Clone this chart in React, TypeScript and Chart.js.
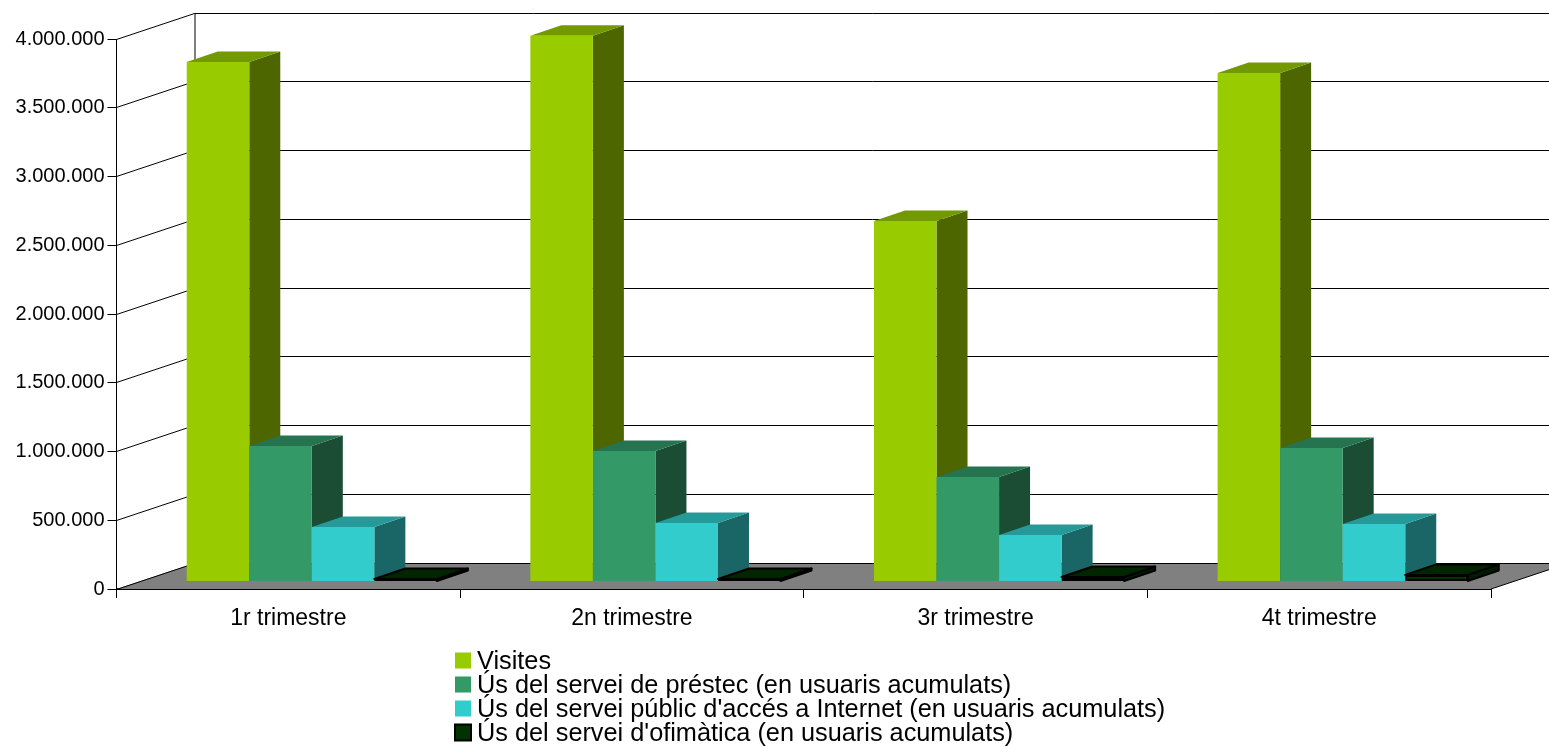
import React, { useEffect, useRef } from "react";
import { Chart, registerables } from "chart.js";

Chart.register(...registerables);

const categories = ["1r trimestre", "2n trimestre", "3r trimestre", "4t trimestre"];
const visites = [3778000, 3970000, 2622000, 3699000];
const prestec = [986000, 949000, 760000, 971000];
const publicInternet = [397000, 426000, 339000, 419000];
const ofimatica = [18000, 18000, 33000, 48000];
const seriesLabels = [
  "Visites",
  "Ús del servei de préstec (en usuaris acumulats)",
  "Ús del servei públic d'accés a Internet (en usuaris acumulats)",
  "Ús del servei d'ofimàtica (en usuaris acumulats)",
];
const frontColors = ["#99cc00", "#339966", "#33cccc", "#003300"];
const sideColors = ["#4d6600", "#1a4d33", "#1a6666", "#001a00"];
const topColors = ["#739900", "#267350", "#269999", "#002600"];

const FONT = '"Liberation Sans", Arial, sans-serif';
const WALL_DX = 78;
const WALL_DY = -26;
const BAR_DX = 23.5;
const BAR_DY = -7.5;
const DEPTH_DX = 31;
const DEPTH_DY = -10.5;

const poly = (ctx: CanvasRenderingContext2D, pts: number[][]) => {
  ctx.beginPath();
  pts.forEach(([x, y], i) => (i ? ctx.lineTo(x, y) : ctx.moveTo(x, y)));
  ctx.closePath();
};

const box3d = {
  id: "box3d",
  beforeDatasetsDraw(chart: any) {
    const { ctx, chartArea: a, scales } = chart;
    ctx.save();
    // floor
    ctx.fillStyle = "#808080";
    poly(ctx, [
      [a.left, a.bottom],
      [a.left + WALL_DX, a.bottom + WALL_DY],
      [a.right + WALL_DX, a.bottom + WALL_DY],
      [a.right, a.bottom],
    ]);
    ctx.fill();
    // walls, following the value axis
    ctx.strokeStyle = "#000";
    ctx.lineWidth = 1;
    ctx.beginPath();
    scales.y.ticks.forEach((t: any) => {
      const y = Math.floor(scales.y.getPixelForValue(t.value)) + 0.5;
      ctx.moveTo(a.left, y);
      ctx.lineTo(a.left + WALL_DX, y + WALL_DY);
      ctx.lineTo(a.right + WALL_DX, y + WALL_DY);
    });
    ctx.moveTo(a.left + WALL_DX + 0.5, a.top + WALL_DY);
    ctx.lineTo(a.left + WALL_DX + 0.5, a.bottom + WALL_DY);
    ctx.moveTo(a.right, a.bottom);
    ctx.lineTo(a.right + WALL_DX, a.bottom + WALL_DY);
    ctx.stroke();
    ctx.restore();

    // Painter's order left to right: each series' depth faces, then its fronts.
    chart.getSortedVisibleDatasetMetas().forEach((meta: any) => {
      const i = meta.index;
      ctx.save();
      ctx.translate(BAR_DX, BAR_DY);
      const outlined = i === 3;
      meta.data.forEach((bar: any) => {
        const l = bar.x - bar.width / 2;
        const r = bar.x + bar.width / 2;
        const t = bar.y;
        const b = bar.base;
        ctx.lineWidth = 2;
        ctx.lineJoin = "round";
        ctx.strokeStyle = "#000";
        ctx.fillStyle = sideColors[i];
        poly(ctx, [
          [r, t],
          [r + DEPTH_DX, t + DEPTH_DY],
          [r + DEPTH_DX, b + DEPTH_DY],
          [r, b],
        ]);
        ctx.fill();
        if (outlined) ctx.stroke();
        ctx.fillStyle = topColors[i];
        poly(ctx, [
          [l, t],
          [l + DEPTH_DX, t + DEPTH_DY],
          [r + DEPTH_DX, t + DEPTH_DY],
          [r, t],
        ]);
        ctx.fill();
        if (outlined) ctx.stroke();
      });
      meta.controller.draw();
      ctx.restore();
    });
    return false;
  },
  afterDraw(chart: any) {
    const { ctx } = chart;
    ctx.save();
    ctx.textBaseline = "middle";
    ctx.textAlign = "left";
    ctx.font = `25.3px ${FONT}`;
    chart.data.datasets.forEach((ds: any, i: number) => {
      const y = 652.5 + i * 24;
      ctx.fillStyle = frontColors[i];
      ctx.fillRect(455, y, 16, 16);
      if (i === 3) {
        ctx.strokeStyle = "#000";
        ctx.lineWidth = 2;
        ctx.strokeRect(455, y, 16, 16);
      }
      ctx.fillStyle = "#000";
      ctx.fillText(ds.label, 477, y + 9.5);
    });
    ctx.restore();
  },
};

export default function App() {
  const ref = useRef<HTMLCanvasElement>(null);
  useEffect(() => {
    document.body.style.margin = "0";
    const series = [visites, prestec, publicInternet, ofimatica];
    const chart = new Chart(ref.current!, {
      type: "bar",
      data: {
        labels: categories,
        datasets: series.map((data, i) => ({
          label: seriesLabels[i],
          data,
          backgroundColor: frontColors[i],
          borderColor: "#000",
          borderWidth: i === 3 ? 2 : 0,
          borderSkipped: false,
          categoryPercentage: 0.728,
          barPercentage: 1,
        })),
      },
      options: {
        responsive: false,
        animation: false,
        devicePixelRatio: 1,
        layout: { padding: { top: 39, right: 58, left: 0, bottom: 0 } },
        plugins: { legend: { display: false }, title: { display: false }, tooltip: { enabled: false } },
        scales: {
          x: {
            grid: { drawOnChartArea: false, drawTicks: true, tickLength: 9, color: "#000" },
            border: { color: "#000", width: 2 },
            ticks: { color: "#000", font: { family: FONT, size: 23 }, padding: 7, maxRotation: 0 },
            afterFit: (s: any) => {
              s.height = 157;
            },
          },
          y: {
            min: 0,
            max: 4000000,
            grid: { drawOnChartArea: false, drawTicks: true, tickLength: 9, color: "#000" },
            border: { color: "#000", width: 1 },
            ticks: {
              stepSize: 500000,
              color: "#000",
              font: { family: FONT, size: 20 },
              padding: 3,
              callback: (v: any) => String(v).replace(/\B(?=(\d{3})+(?!\d))/g, "."),
            },
            afterFit: (s: any) => {
              s.width = 116.5;
            },
          },
        },
      },
      plugins: [box3d],
    } as any);
    return () => chart.destroy();
  }, []);
  return <canvas ref={ref} width={1549} height={746} style={{ display: "block" }} />;
}
